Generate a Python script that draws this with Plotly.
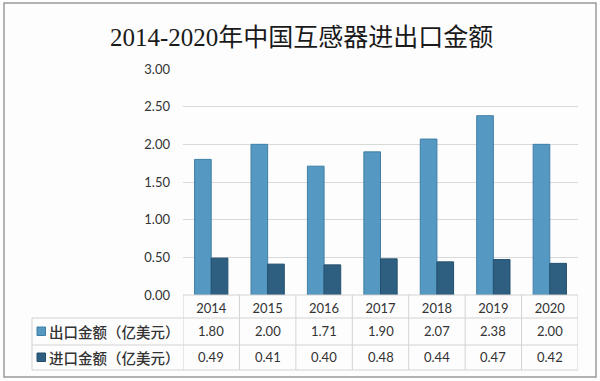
import plotly.graph_objects as go

years = ["2014", "2015", "2016", "2017", "2018", "2019", "2020"]
export_vals = [1.80, 2.00, 1.71, 1.90, 2.07, 2.38, 2.00]
import_vals = [0.49, 0.41, 0.40, 0.48, 0.44, 0.47, 0.42]
export_name = "出口金额（亿美元）"
import_name = "进口金额（亿美元）"
title_text = "2014-2020年中国互感器进出口金额"
y_ticks = [0, 0.5, 1.0, 1.5, 2.0, 2.5, 3.0]

EXPORT_COLOR = "#5599c3"
IMPORT_COLOR = "#2e5f80"
GRID = "#d9d9d9"
TABLE_LINE = "#d3d3d3"
TEXT = "#333333"
NUM_FONT = "Lato, Liberation Sans, sans-serif"
CJK_FONT = "Noto Sans CJK SC, sans-serif"

W, H = 600, 381
L, R, T, B = 183, 22, 69, 86
PW, PH = W - L - R, H - T - B


def px(x):
    return (x - L) / PW


def py(y):
    return (H - B - y) / PH


fig = go.Figure()
fig.add_trace(go.Bar(x=years, y=export_vals, name=export_name,
                     marker=dict(color=EXPORT_COLOR, line=dict(color="#3f7fa6", width=1))))
fig.add_trace(go.Bar(x=years, y=import_vals, name=import_name,
                     marker=dict(color=IMPORT_COLOR, line=dict(color="#234f6d", width=1))))

shapes = []
# outer border
shapes.append(dict(type="rect", xref="paper", yref="paper", x0=px(4), x1=px(596), y0=py(377), y1=py(3),
                   line=dict(color="#9a9a9a", width=1.5), fillcolor="rgba(0,0,0,0)", layer="below"))
# table horizontal lines
shapes.append(dict(type="line", xref="paper", yref="paper", x0=0, x1=1, y0=0, y1=0,
                   line=dict(color=TABLE_LINE, width=1)))
for yy in (318, 345, 370):
    shapes.append(dict(type="line", xref="paper", yref="paper", x0=px(32), x1=1, y0=py(yy), y1=py(yy),
                       line=dict(color=TABLE_LINE, width=1)))
# table vertical lines
shapes.append(dict(type="line", xref="paper", yref="paper", x0=px(32), x1=px(32), y0=py(318), y1=py(370),
                   line=dict(color=TABLE_LINE, width=1)))
for k in range(len(years) + 1):
    shapes.append(dict(type="line", xref="x", yref="paper", x0=k - 0.5, x1=k - 0.5, y0=0, y1=py(370),
                       line=dict(color=TABLE_LINE, width=1)))
# legend keys
shapes.append(dict(type="rect", xref="paper", yref="paper", x0=px(37), x1=px(45.5), y0=py(335.5), y1=py(327),
                   line=dict(color="#3f7fa6", width=1), fillcolor=EXPORT_COLOR))
shapes.append(dict(type="rect", xref="paper", yref="paper", x0=px(37), x1=px(45.5), y0=py(361.5), y1=py(353),
                   line=dict(color="#234f6d", width=1), fillcolor=IMPORT_COLOR))

annotations = []
annotations.append(dict(text=title_text, xref="paper", yref="paper", x=px(301), y=py(37),
                        xanchor="center", yanchor="middle", showarrow=False,
                        font=dict(family="Liberation Serif, Noto Sans CJK SC, serif", size=25, color="#1a1a1a")))
annotations.append(dict(text=export_name, xref="paper", yref="paper", x=px(46.5), y=py(331),
                        xanchor="left", yanchor="middle", showarrow=False,
                        font=dict(family=CJK_FONT, size=14.5, color=TEXT, weight=500)))
annotations.append(dict(text=import_name, xref="paper", yref="paper", x=px(46.5), y=py(357),
                        xanchor="left", yanchor="middle", showarrow=False,
                        font=dict(family=CJK_FONT, size=14.5, color=TEXT, weight=500)))
for idx, (e, i) in enumerate(zip(export_vals, import_vals)):
    annotations.append(dict(text=f"{e:.2f}", xref="x", yref="paper", x=idx, y=py(331),
                            xanchor="center", yanchor="middle", showarrow=False,
                            font=dict(family=NUM_FONT, size=13, color=TEXT)))
    annotations.append(dict(text=f"{i:.2f}", xref="x", yref="paper", x=idx, y=py(357),
                            xanchor="center", yanchor="middle", showarrow=False,
                            font=dict(family=NUM_FONT, size=13, color=TEXT)))

fig.update_layout(
    width=W, height=H,
    margin=dict(l=L, r=R, t=T, b=B),
    paper_bgcolor="#fdfdfd", plot_bgcolor="#fdfdfd",
    barmode="group", bargap=0.41, bargroupgap=0,
    showlegend=False,
    shapes=shapes, annotations=annotations,
    xaxis=dict(type="category", range=[-0.5, len(years) - 0.5], showgrid=False, zeroline=False,
               showline=False, ticks="",
               tickfont=dict(family=NUM_FONT, size=13, color=TEXT), ticklabelstandoff=4),
    yaxis=dict(range=[0, 3.0], tickvals=y_ticks, tickformat=".2f", showgrid=True, gridcolor=GRID,
               gridwidth=1, zeroline=False, showline=False, ticks="",
               tickfont=dict(family=NUM_FONT, size=13, color=TEXT), ticklabelstandoff=12),
)

fig.write_html("out.html", config={"displayModeBar": False},
               post_script="document.body.style.margin='0';document.body.style.overflow='hidden';")
